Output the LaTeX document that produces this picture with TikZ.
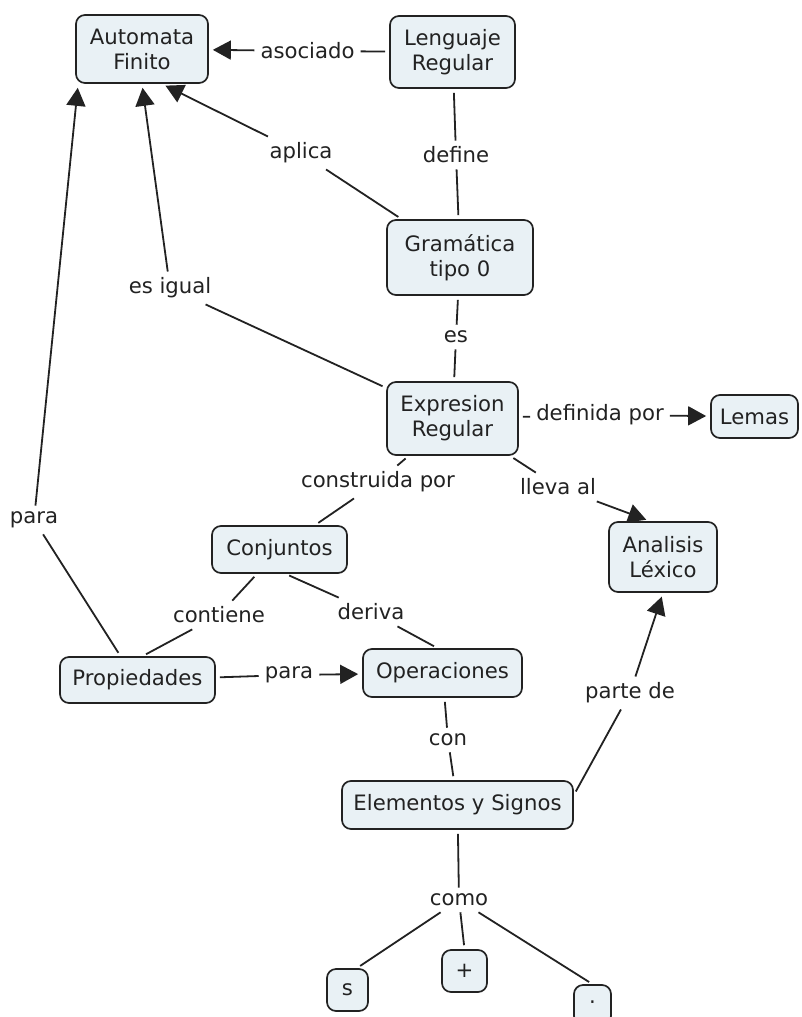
\documentclass[tikz,border=0pt]{standalone}
\usepackage{fontspec}
\setmainfont{DejaVu Sans}
\usetikzlibrary{arrows.meta,calc}
\definecolor{boxfill}{RGB}{233,241,245}
\definecolor{ink}{RGB}{34,34,34}
\begin{document}
\begin{tikzpicture}[x=1pt,y=-1pt,
  font=\fontsize{21.2}{25}\selectfont,
  concept/.style={draw=ink, line width=1.7pt, fill=boxfill, rounded corners=9pt,
    align=center, inner sep=0pt, text=ink},
  lbl/.style={inner sep=6pt, text=ink},
  n2l/.style={draw=ink, line width=1.8pt, shorten <=4pt},
  l2n/.style={draw=ink, line width=1.8pt, shorten >=4pt},
  l2a/.style={l2n, -{Triangle[length=18pt,width=19pt]}}]
\useasboundingbox (0,0) rectangle (801,1017);
\clip (0,0) rectangle (801,1017);
\fill[white] (0,0) rectangle (801,1017);
% concepts
\node[concept, minimum width=132pt, minimum height=68pt] (AF) at (142,49) {Automata\\Finito};
\node[concept, minimum width=125pt, minimum height=72pt] (LR) at (452.5,52) {Lenguaje\\Regular};
\node[concept, minimum width=146pt, minimum height=75pt] (GT) at (460,257.5) {Gramática\\tipo 0};
\node[concept, minimum width=131pt, minimum height=73pt] (ER) at (452.5,418.5) {Expresion\\Regular};
\node[concept, minimum width=87pt, minimum height=43pt] (Lemas) at (754.5,416.5) {Lemas};
\node[concept, minimum width=108pt, minimum height=70pt] (AL) at (663,557) {Analisis\\Léxico};
\node[concept, minimum width=135pt, minimum height=47pt] (Conj) at (279.5,549.5) {Conjuntos};
\node[concept, minimum width=155pt, minimum height=46pt] (Prop) at (137.5,680) {Propiedades};
\node[concept, minimum width=159pt, minimum height=48pt] (Oper) at (442.5,673) {Operaciones};
\node[concept, minimum width=231pt, minimum height=48pt] (EyS) at (457.5,805) {Elementos y Signos};
\node[concept, minimum width=41pt, minimum height=42pt] (s) at (347.5,990) {s};
\node[concept, minimum width=45pt, minimum height=42pt] (plus) at (464.5,971) {+};
\node[concept, minimum width=37pt, minimum height=40pt] (dot) at (592.5,1005) {·};
% linking phrases
\node[lbl] (asociado) at (307.5,51) {asociado};
\node[lbl] (define) at (456,155) {define};
\node[lbl] (aplica) at (301,153) {aplica};
\node[lbl] (es) at (456,337) {es};
\node[lbl] (esigual) at (170,288) {es igual};
\node[lbl] (definida) at (600,415) {definida por};
\node[lbl] (construida) at (378,482) {construida por};
\node[lbl] (lleva) at (558,487) {lleva al};
\node[lbl] (paraA) at (34,520) {para};
\node[lbl] (contiene) at (219,615) {contiene};
\node[lbl] (deriva) at (371,612) {deriva};
\node[lbl] (paraB) at (289,675) {para};
\node[lbl] (con) at (448,740) {con};
\node[lbl] (parte) at (630,693) {parte de};
\node[lbl] (como) at (459,900) {como};
% connectors
\draw[n2l] (LR) -- (asociado);
\draw[l2a] (asociado) -- (AF);
\draw[n2l] (LR) -- (define);
\draw[l2n] (define) -- (GT);
\draw[n2l] (GT) -- (aplica);
\draw[l2a] (aplica) -- ($(AF.south east)+(-47,0)$);
\draw[n2l] (GT) -- (es);
\draw[l2n] (es) -- (ER);
\draw[n2l] (ER) -- (esigual);
\draw[l2a] (esigual) -- (AF.south);
\draw[n2l] (ER) -- (definida);
\draw[l2a] (definida) -- (Lemas);
\draw[n2l] (ER) -- (construida);
\draw[l2n] (construida) -- (Conj);
\draw[n2l] (ER) -- (lleva);
\draw[l2a] (lleva) -- ($(AL.north)+(-13,0)$);
\draw[n2l] (Conj) -- (contiene);
\draw[l2n] (contiene) -- ($(Prop.north)+(5,0)$);
\draw[n2l] ($(Conj.south)+(6,0)$) -- (deriva);
\draw[l2n] (deriva) -- ($(Oper.north)+(-5,0)$);
\draw[n2l] ($(Prop.north)+(-17,0)$) -- (paraA);
\draw[l2a] (paraA) -- ($(AF.south west)+(3,0)$);
\draw[n2l] (Prop) -- (paraB);
\draw[l2a] (paraB) -- (Oper);
\draw[n2l] (Oper) -- (con);
\draw[l2n] (con) -- (EyS);
\draw[n2l] ($(EyS.east)+(0,-10)$) -- (parte);
\draw[l2a] (parte) -- (AL.south);
\draw[n2l] (EyS) -- (como);
\draw[l2n] (como) -- ($(s.north east)+(-12,0)$);
\draw[l2n] (como) -- (plus.north);
\draw[l2n] (como) -- (dot.north);
\end{tikzpicture}
\end{document}
